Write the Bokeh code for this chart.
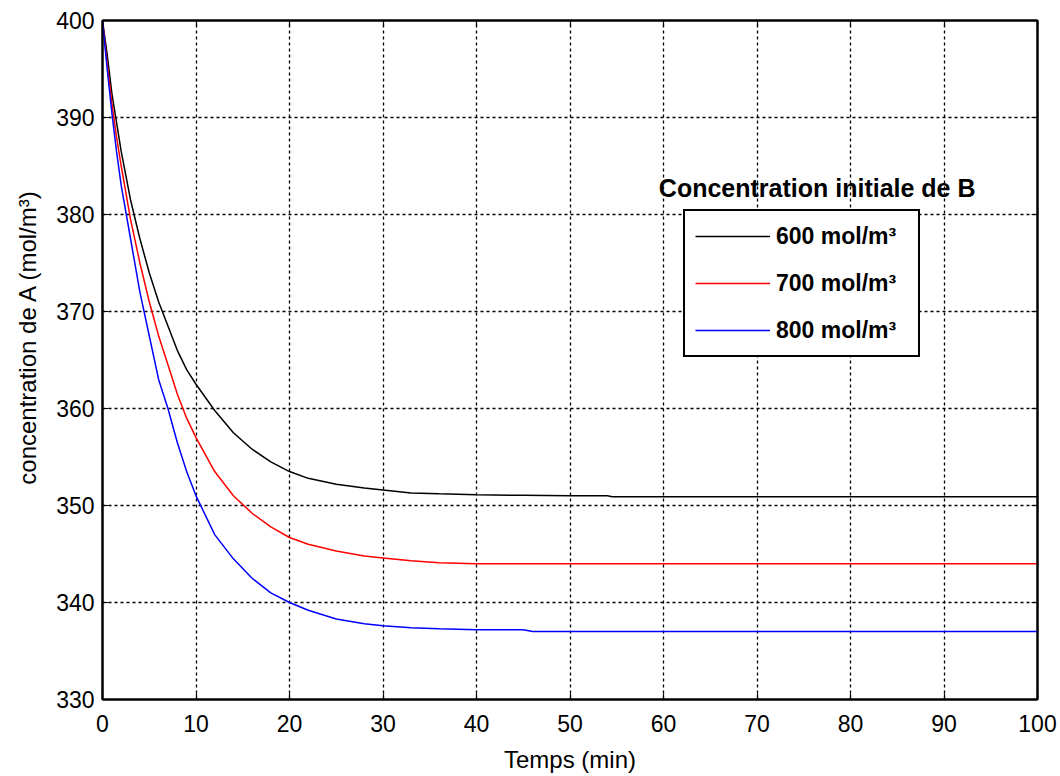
from bokeh.plotting import figure
from bokeh.models import Legend, LegendItem, Label, FixedTicker, Range1d, LinearAxis
from bokeh.embed import file_html
from bokeh.resources import INLINE

# Data
t_600 = [0, 0.5, 1, 1.5, 2, 3, 4, 5, 6, 7, 8, 9, 10, 12, 14, 16, 18, 20, 22, 25, 28, 30, 33, 36, 40, 45, 50, 54, 54.5, 60, 70, 80, 90, 100]
c_600 = [400, 396.5, 392.5, 389.5, 386.5, 381.5, 377.5, 374, 371, 368.5, 366, 364, 362.5, 359.8, 357.5, 355.8, 354.5, 353.5, 352.8, 352.2, 351.8, 351.6, 351.3, 351.2, 351.1, 351.05, 351, 351, 350.9, 350.9, 350.9, 350.9, 350.9, 350.9]

t_700 = [0, 0.5, 1, 1.5, 2, 3, 4, 5, 6, 7, 8, 9, 10, 12, 14, 16, 18, 20, 22, 25, 28, 30, 33, 36, 40, 50, 60, 70, 80, 90, 100]
c_700 = [400, 395.5, 391.5, 388, 385, 379.5, 375, 371, 367.5, 364.5, 361.5, 359, 357, 353.5, 351, 349.2, 347.8, 346.7, 346, 345.3, 344.8, 344.6, 344.3, 344.1, 344, 344, 344, 344, 344, 344, 344]

t_800 = [0, 0.5, 1, 1.5, 2, 3, 4, 5, 6, 7, 8, 9, 10, 12, 14, 16, 18, 20, 22, 25, 28, 30, 33, 36, 40, 45, 46, 50, 60, 70, 80, 90, 100]
c_800 = [400, 395, 390.5, 386.5, 383, 377.5, 372, 367.5, 363, 360, 356.5, 353.5, 351, 347, 344.5, 342.5, 341, 340, 339.2, 338.3, 337.8, 337.6, 337.4, 337.3, 337.2, 337.2, 337, 337, 337, 337, 337, 337, 337]

x_ticks = [0, 10, 20, 30, 40, 50, 60, 70, 80, 90, 100]
y_ticks = [330, 340, 350, 360, 370, 380, 390, 400]
legend_labels = ["600 mol/m³", "700 mol/m³", "800 mol/m³"]
legend_title = "Concentration initiale de B"
x_label = "Temps (min)"
y_label = "concentration de A (mol/m³)"

FONT = "Liberation Sans"

p = figure(width=1060, height=776, output_backend="svg", toolbar_location=None,
           x_range=Range1d(0, 100), y_range=Range1d(330, 400),
           min_border_left=102, min_border_right=23, min_border_top=20, min_border_bottom=77)
p.background_fill_color = "white"
p.border_fill_color = "white"
p.outline_line_color = "black"
p.outline_line_width = 2
p.outline_line_alpha = 1

xax = p.below[0]
yax = p.left[0]

for ax in (xax, yax):
    ax.axis_line_color = "black"
    ax.axis_line_width = 2
    ax.major_tick_in = 6
    ax.major_tick_out = 0
    ax.minor_tick_line_color = None
    ax.major_tick_line_color = "black"
    ax.major_tick_line_width = 1.2
    ax.major_label_text_font = FONT
    ax.major_label_text_font_size = "23px"
    ax.major_label_text_color = "black"
    ax.axis_label_text_font = FONT
    ax.axis_label_text_font_size = "24px"
    ax.axis_label_text_font_style = "normal"
    ax.axis_label_text_color = "black"

xax.ticker = FixedTicker(ticks=x_ticks)
yax.ticker = FixedTicker(ticks=y_ticks)
xax.axis_label = x_label
# leading no-break spaces shift the rotated label upward, as in the reference
yax.axis_label = "\u00a0" * 7 + y_label
xax.major_label_standoff = 15
yax.major_label_standoff = 8
xax.axis_label_standoff = 11
yax.axis_label_standoff = 12

# mirror axes (top/right): inward ticks only
top_ax = LinearAxis(ticker=FixedTicker(ticks=x_ticks),
                    major_label_overrides={t: "" for t in x_ticks})
right_ax = LinearAxis(ticker=FixedTicker(ticks=y_ticks),
                      major_label_overrides={t: "" for t in y_ticks})
for ax in (top_ax, right_ax):
    ax.axis_line_color = "black"
    ax.axis_line_width = 2
    ax.major_tick_in = 6
    ax.major_tick_out = 0
    ax.minor_tick_line_color = None
    ax.major_tick_line_color = "black"
    ax.major_tick_line_width = 1.2
    ax.major_label_standoff = 0
    ax.major_label_text_font_size = "1px"
p.add_layout(top_ax, "above")
p.add_layout(right_ax, "right")

p.grid.grid_line_color = "black"
p.grid.grid_line_dash = "3 3"
p.grid.grid_line_width = 1.3

r1 = p.line(t_600, c_600, line_color="black", line_width=1.5)
r2 = p.line(t_700, c_700, line_color="#ff0000", line_width=1.5)
r3 = p.line(t_800, c_800, line_color="#0000ff", line_width=1.5)

legend = Legend(items=[LegendItem(label=legend_labels[0], renderers=[r1]),
                       LegendItem(label=legend_labels[1], renderers=[r2]),
                       LegendItem(label=legend_labels[2], renderers=[r3])],
                location=(581, 342))
legend.label_text_font = FONT
legend.label_text_font_size = "23px"
legend.label_text_font_style = "bold"
legend.label_text_color = "black"
legend.glyph_width = 75
legend.glyph_height = 30
legend.label_height = 30
legend.label_width = 132
legend.spacing = 17
legend.padding = 10
legend.margin = 0
legend.label_standoff = 6
legend.border_line_color = "black"
legend.border_line_alpha = 1
legend.border_line_width = 2
legend.background_fill_color = "white"
legend.background_fill_alpha = 1
p.add_layout(legend)

title = Label(x=59.5, y=382.7, text=legend_title, text_font=FONT, text_font_size="25px",
              text_font_style="bold", text_color="black", text_baseline="middle")
p.add_layout(title)

open("out.html", "w").write(file_html(p, INLINE))
